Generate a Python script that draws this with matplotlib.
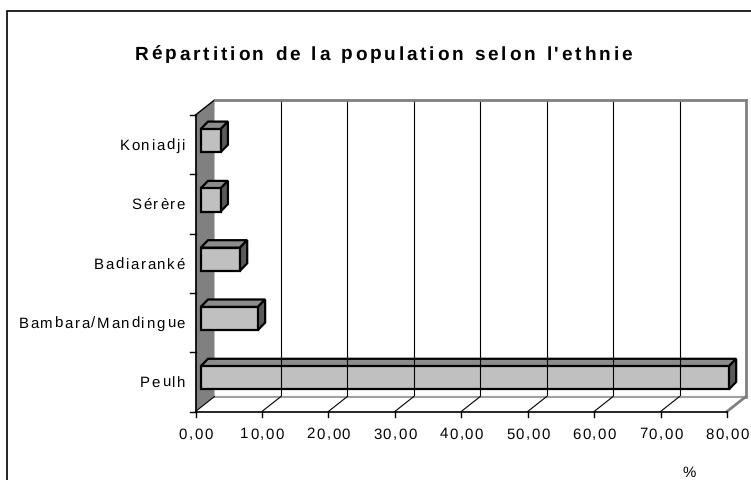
import numpy as np
import matplotlib.pyplot as plt
from matplotlib.patches import Polygon, Rectangle
from matplotlib.lines import Line2D
from matplotlib.transforms import IdentityTransform
from matplotlib.font_manager import FontProperties

# données (en %)
categories = ['Peulh', 'Bambara/Mandingue', 'Badiaranké', 'Sérère', 'Koniadji']
values = [79.5, 8.6, 5.9, 3.0, 3.0]
xticks = [0, 10, 20, 30, 40, 50, 60, 70, 80]
xticklabels = [f"{t:.2f}".replace('.', ',') for t in xticks]
title = "Répartition de la population selon l'ethnie"
unit = '%'

W, H, DPI = 751, 480, 100
plt.rcParams['font.family'] = ['Liberation Sans', 'DejaVu Sans']
plt.rcParams['text.hinting'] = 'no_hinting'
plt.rcParams['text.hinting_factor'] = 1
fig = plt.figure(figsize=(W / DPI, H / DPI), dpi=DPI)
renderer = fig.canvas.get_renderer()

# plan avant de la boite 3D (pixels depuis le haut)
x0, x1, ytop, ybot = 195.5, 727, 115, 411.5
ax = fig.add_axes([x0 / W, 1 - ybot / H, (x1 - x0) / W, (ybot - ytop) / H])
ax.set_xlim(0, 80)
ax.set_ylim(-0.5, len(categories) - 0.5)
ax.axis('off')

ident = IdentityTransform()
D = (19, 15)                    # profondeur des murs
F, B = (5.2, 4), (12.5, 11.5)   # avant / arriere des barres
ylo, yhi = -0.5, len(categories) - 0.5


def px(x, y, d=(0, 0)):
    X, Y = ax.transData.transform((x, y))
    return (X + d[0], Y + d[1])


def poly(points, fc, ec='none', lw=0):
    fig.add_artist(Polygon(points, closed=True, facecolor=fc, edgecolor=ec,
                           linewidth=lw, joinstyle='miter', transform=ident))


def line(p, q, color='black', lw=1.0):
    fig.add_artist(Line2D([p[0], q[0]], [p[1], q[1]], color=color,
                          linewidth=lw, transform=ident))


def width(s, prop):
    # avance du texte, mesuree entre deux barres
    w1 = renderer.get_text_width_height_descent('|' + s + '|', prop, ismath=False)[0]
    w0 = renderer.get_text_width_height_descent('||', prop, ismath=False)[0]
    return w1 - w0


def spaced(x, y, s, spacing, ha='left', **font):
    # texte avec espacement des lettres (x, y en pixels, y = ligne de base)
    prop = FontProperties(**font)
    total = width(s, prop) + spacing * (len(s) - 1)
    if ha == 'center':
        x = x - total / 2
    elif ha == 'right':
        x = x - total
    for k, ch in enumerate(s):
        xk = x + width(s[:k], prop) + k * spacing
        fig.text(xk / W, y / H, ch, ha='left', va='baseline', fontproperties=prop)


# cadre du graphique
fig.add_artist(Rectangle((7, -20), W + 20, H - 11 + 20, fill=False,
                         edgecolor='black', linewidth=1.2, transform=ident))

# mur gauche
poly([px(0, ylo), px(0, yhi), px(0, yhi, D), px(0, ylo, D)], '#808080')
line(px(0, yhi), px(0, yhi, D), 'black', 1.0)

# mur du fond
poly([px(0, ylo, D), px(80, ylo, D), px(80, yhi, D), px(0, yhi, D)], 'white')
for t in xticks[1:-1]:
    line(px(t, ylo, D), px(t, yhi, D), 'black', 0.8)
line(px(0, yhi, D), px(80, yhi, D), '#808080', 2.0)
line(px(80, yhi, D), px(80, ylo, D), '#808080', 2.0)

# plancher
poly([px(0, ylo), px(80, ylo), px(80, ylo, D), px(0, ylo, D)], 'white')
line(px(0, ylo, D), px(80, ylo, D), '#a0a0a0', 1.5)
for t in xticks[:-1]:
    line(px(t, ylo), px(t, ylo, D), 'black', 0.8)
line(px(80, ylo), px(80, ylo, D), '#808080', 2.0)

# axes
line(px(0, ylo), px(0, yhi), 'black', 1.2)
line(px(0, ylo), px(80, ylo), 'black', 1.2)
for k in range(len(categories) + 1):
    b = k - 0.5
    line(px(0, b, (-5.5, 0)), px(0, b), 'black', 1.0)
for t, lab in zip(xticks, xticklabels):
    line(px(t, ylo), px(t, ylo, (0, -5.5)), 'black', 1.0)
    X, Y = px(t, ylo, (0, -27))
    spaced(X, Y, lab, 1.5, ha='center', size=10.5)

# barres
h = 0.195
for i, (cat, v) in enumerate(zip(categories, values)):
    poly([px(0, i + h, F), px(v, i + h, F), px(v, i + h, B), px(0, i + h, B)],
         '#8c8c8c', 'black', 1.6)
    poly([px(v, i - h, F), px(v, i + h, F), px(v, i + h, B), px(v, i - h, B)],
         '#5a5a5a', 'black', 1.6)
    poly([px(0, i - h, F), px(v, i - h, F), px(v, i + h, F), px(0, i + h, F)],
         '#c0c0c0', 'black', 1.6)
    X, Y = px(0, i, (-10.5, -5.3))
    spaced(X, Y, cat, 1.7, ha='right', size=10.5)

spaced(383.5, H - 59.5, title, 2.85, ha='center', size=14, weight='bold')
spaced(689.5, H - 476.5, unit, 0, ha='center', size=10.5)

fig.savefig('out.png', dpi=DPI)
